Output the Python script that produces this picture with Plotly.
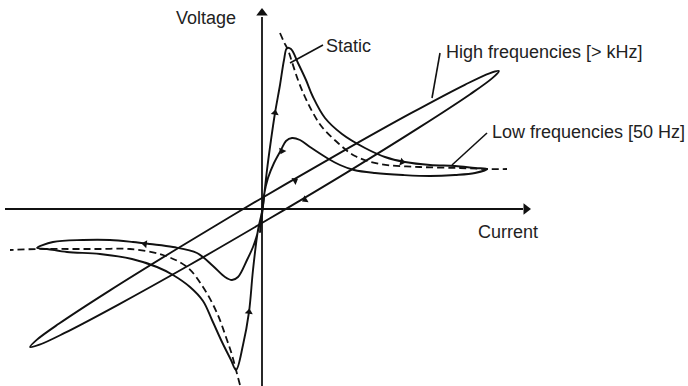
import plotly.graph_objects as go

# ---- data (schematic; x = current direction, y = voltage direction, screen frame) ----
# horizontal / vertical axis
axis_h_x = [5, 523]
axis_h_y = [209, 209]
axis_v_x = [262, 262]
axis_v_y = [386, 17]
axis_head_x = [526, 262]
axis_head_y = [209, 13]
axis_head_angle = [90, 0]

# high frequency loop (narrow ellipse)
hf_x = [270.0, 189.5, 118.0, 64.2, 39.5, 30.1, 36.7, 58.8, 109.6, 179.2, 259.0, 339.6, 411.0, 464.8,
        489.5, 498.9, 492.3, 470.2, 419.4, 349.9, 270.0]
hf_y = [218.3, 265.0, 304.8, 333.2, 344.7, 347.0, 339.9, 323.8, 290.6, 247.5, 199.7, 153.1, 113.2, 84.8,
        73.3, 71.0, 78.1, 94.2, 127.4, 170.6, 218.3]

# low frequency loop, positive half
lf_r_x = [260, 262, 264, 267, 271, 275, 280, 284, 287, 291, 298, 306, 313, 325, 342, 365, 385, 405, 430,
          455, 475, 487, 475, 455, 430, 403, 375, 354, 340, 327, 310, 300, 292, 286, 281, 274, 268, 264,
          262, 260]
lf_r_y = [232, 215, 197, 170, 140, 113, 85, 60, 48, 49, 63, 80, 97, 118, 134, 148, 157, 162, 165,
          166, 168, 169, 173, 175, 176, 175, 173, 170, 165, 158, 147, 140, 138, 141, 150, 163, 178, 195,
          212, 232]

# low frequency loop, negative half
lf_l_x = [264, 262, 258, 253, 249, 243, 236, 231, 222, 212, 203, 190, 173, 157, 132, 100, 67, 47, 37,
          53, 83, 110, 133, 150, 173, 197, 213, 225, 232, 238, 247, 253, 257, 262, 264]
lf_l_y = [197, 212, 230, 270, 312, 345, 370, 360, 342, 320, 301, 287, 275, 267, 259, 254, 252, 249, 248,
          242, 240, 240, 242, 244, 247, 253, 266, 277, 280, 277, 260, 247, 235, 212, 197]

# static characteristic (dashed), two branches
st_u_x = [280, 284, 288, 292, 298, 305, 313, 322, 338, 355, 380, 420, 460, 487, 507]
st_u_y = [33, 42, 50, 62, 80, 97, 113, 127, 143, 156, 164, 167, 168, 169, 169]
st_l_x = [240, 236, 232, 227, 217, 203, 187, 163, 130, 100, 70, 37, 10]
st_l_y = [385, 370, 355, 340, 313, 287, 267, 255, 249, 249, 249, 249, 250]

# direction arrows on the loops
arr_x = [275, 282, 402, 295, 305, 145, 249]
arr_y = [113, 151, 162, 180.6, 199.7, 244, 312]
arr_angle = [9, 205, 104, 59.5, 239.5, 277, 8]

# labels and leader lines
labels = ["Voltage", "Static", "High frequencies [> kHz]", "Low frequencies [50 Hz]", "Current"]
label_x = [238, 324, 444, 490, 476]
label_y = [18, 46, 52, 132, 232]
label_anchor = ["right", "left", "left", "left", "left"]
leaders = [([290, 323], [63, 45]), ([432, 440], [98, 53]), ([452, 487], [165, 133])]

INK = "#111111"
fig = go.Figure()

def line(x, y, width=1.9, dash=None, smooth=True):
    fig.add_trace(go.Scatter(
        x=x, y=y, mode="lines", hoverinfo="skip", showlegend=False,
        line=dict(color=INK, width=width, dash=dash,
                  shape="spline" if smooth else "linear",
                  smoothing=1.0 if smooth else None)))

line(axis_h_x, axis_h_y, 1.8, smooth=False)
line(axis_v_x, axis_v_y, 1.8, smooth=False)
line(hf_x, hf_y)
line(lf_r_x, lf_r_y)
line(lf_l_x, lf_l_y)
line(st_u_x, st_u_y, 1.8, dash="7px,4px")
line(st_l_x, st_l_y, 1.8, dash="7px,4px")
for lx, ly in leaders:
    line(lx, ly, 1.6, smooth=False)

fig.add_trace(go.Scatter(
    x=axis_head_x, y=axis_head_y, mode="markers", hoverinfo="skip", showlegend=False,
    marker=dict(symbol="triangle-up", size=10, color=INK, angle=axis_head_angle, line=dict(width=0))))
fig.add_trace(go.Scatter(
    x=arr_x, y=arr_y, mode="markers", hoverinfo="skip", showlegend=False,
    marker=dict(symbol="triangle-up", size=7, color=INK, angle=arr_angle, line=dict(width=0))))

for t, x, y, a in zip(labels, label_x, label_y, label_anchor):
    fig.add_annotation(x=x, y=y, text=t, showarrow=False, xanchor=a, yanchor="middle",
                       font=dict(family="Liberation Sans, Arial, sans-serif", size=18, color="#222222"))

fig.update_layout(
    width=688, height=386, margin=dict(l=0, r=0, t=0, b=0),
    paper_bgcolor="white", plot_bgcolor="white",
    xaxis=dict(range=[0, 688], visible=False, fixedrange=True),
    yaxis=dict(range=[386, 0], visible=False, fixedrange=True),
)

fig.write_html("out.html")
